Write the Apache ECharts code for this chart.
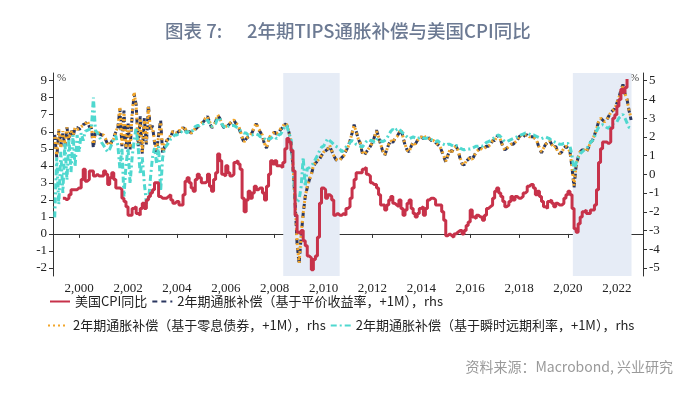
<!DOCTYPE html>
<html>
<head>
<meta charset="utf-8">
<script src="https://cdn.jsdelivr.net/npm/echarts@6/dist/echarts.min.js"></script>
<style>
  html, body { margin: 0; padding: 0; background: #fff; }
  #chart { width: 700px; height: 397px; }
</style>
</head>
<body>
<div id="chart"></div>
<script>
// axis ticks / labels
const xTicks = [2000, 2002, 2004, 2006, 2008, 2010, 2012, 2014, 2016, 2018, 2020, 2022];
const leftTicks = [-2, -1, 0, 1, 2, 3, 4, 5, 6, 7, 8, 9];
const rightTicks = [-5, -4, -3, -2, -1, 0, 1, 2, 3, 4, 5];
const shadeRanges = [[2008.35, 2010.66], [2020.2, 2022.6]];

// first month of each series [year, month]
const cpiStart = [1999, 5];
const rhsStart = [1999, 1];

// US CPI YoY, % (lhs), monthly from May 1999
const cpiYoY = [
  2.1, 2.0, 2.1, 2.3, 2.6, 2.6, 2.6, 2.7,
  2.7, 3.2, 3.8, 3.1, 3.2, 3.7, 3.7, 3.4, 3.5, 3.4, 3.4, 3.4,
  3.7, 3.5, 2.9, 3.3, 3.6, 3.2, 2.7, 2.7, 2.6, 2.1, 1.9, 1.6,
  1.1, 1.1, 1.5, 1.6, 1.2, 1.1, 1.5, 1.8, 1.5, 2.0, 2.2, 2.4,
  2.6, 3.0, 3.0, 2.2, 2.1, 2.1, 2.1, 2.2, 2.3, 2.0, 1.8, 1.9,
  1.9, 1.7, 1.7, 2.3, 3.1, 3.3, 3.0, 2.7, 2.5, 3.2, 3.5, 3.3,
  3.0, 3.0, 3.1, 3.5, 2.8, 2.5, 3.2, 3.6, 4.7, 4.3, 3.5, 3.4,
  4.0, 3.6, 3.4, 3.5, 4.2, 4.3, 4.1, 3.8, 2.1, 1.3, 2.0, 2.5,
  2.1, 2.4, 2.8, 2.6, 2.7, 2.7, 2.4, 2.0, 2.8, 3.5, 4.3, 4.1,
  4.3, 4.0, 4.0, 3.9, 4.2, 5.0, 5.6, 5.4, 4.9, 3.7, 1.1, 0.1,
  0.0, 0.2, -0.4, -0.7, -1.3, -1.4, -2.1, -1.5, -1.3, -0.2, 1.8, 2.7,
  2.6, 2.1, 2.3, 2.2, 2.0, 1.1, 1.2, 1.1, 1.1, 1.2, 1.1, 1.5,
  1.6, 2.1, 2.7, 3.2, 3.6, 3.6, 3.6, 3.8, 3.9, 3.5, 3.4, 3.0,
  2.9, 2.9, 2.7, 2.3, 1.7, 1.7, 1.4, 1.7, 2.0, 2.2, 1.8, 1.7,
  1.6, 2.0, 1.5, 1.1, 1.4, 1.8, 2.0, 1.5, 1.2, 1.0, 1.2, 1.5,
  1.6, 1.1, 1.5, 2.0, 2.1, 2.1, 2.0, 1.7, 1.7, 1.7, 1.3, 0.8,
  -0.1, 0.0, -0.1, -0.2, 0.0, 0.1, 0.2, 0.2, 0.0, 0.2, 0.5, 0.7,
  1.4, 1.0, 0.9, 1.1, 1.0, 1.0, 0.8, 1.1, 1.5, 1.6, 1.7, 2.1,
  2.5, 2.7, 2.4, 2.2, 1.9, 1.6, 1.7, 1.9, 2.2, 2.0, 2.2, 2.1,
  2.1, 2.2, 2.4, 2.5, 2.8, 2.9, 2.9, 2.7, 2.3, 2.5, 2.2, 1.9,
  1.6, 1.5, 1.9, 2.0, 1.8, 1.6, 1.8, 1.7, 1.7, 1.8, 2.1, 2.3,
  2.5, 2.3, 1.5, 0.3, 0.1, 0.6, 1.0, 1.3, 1.4, 1.2, 1.2, 1.4,
  1.4, 1.7, 2.6, 4.2, 5.0, 5.4, 5.4, 5.3, 5.4, 6.2, 6.8, 7.0,
  7.5, 7.9, 8.5, 8.3, 8.6, 9.1
];

// 2y breakeven, par yield basis, +1M (rhs), monthly from Jan 1999
const parBE = [
  2.1, 0.9, 2.3, 1.5, 2.2, 1.5, 2.5, 1.8, 2.4, 2.0, 2.5, 2.5,
  2.4, 2.5, 2.65, 2.7, 2.8, 2.55, 2.45, 1.4, 2.3, 2.25, 2.15, 2.1,
  2.05, 1.85, 1.6, 1.55, 1.75, 1.95, 2.25, 2.45, 3.5, 1.5, 3.4, 1.3,
  2.8, 1.3, 3.1, 4.3, 3.7, 1.5, 3.1, 1.1, 3.0, 1.6, 3.7, 2.3,
  2.6, 1.7, 1.2, 2.1, 2.9, 1.1, 1.5, 1.8, 1.9, 2.0, 2.3, 2.2,
  2.2, 2.3, 2.3, 2.5, 2.4, 2.2, 2.3, 2.2, 2.3, 2.4, 2.5, 2.6,
  2.7, 2.8, 2.95, 3.1, 2.8, 2.5, 2.55, 2.8, 3.15, 3.0, 2.7, 2.5,
  2.5, 2.6, 2.7, 2.8, 2.9, 2.7, 2.6, 2.3, 1.95, 1.7, 1.9, 2.0,
  2.05, 2.25, 2.5, 2.7, 2.4, 2.25, 2.05, 1.6, 1.4, 1.8, 2.05, 2.15,
  2.25, 2.15, 2.25, 2.4, 2.5, 2.7, 2.6, 2.25, 1.7, 0.4, -1.4, -3.7,
  -4.8, -3.3, -2.1, -1.2, -0.7, -0.3, 0.0, 0.4, 0.6, 0.7, 0.8, 1.0,
  1.15, 1.25, 1.35, 1.5, 1.25, 1.0, 0.8, 0.7, 0.75, 0.9, 1.0, 1.25,
  1.45, 1.8, 2.2, 2.65, 2.3, 1.9, 1.65, 1.15, 1.0, 1.2, 1.3, 1.5,
  1.7, 2.0, 2.35, 2.0, 1.6, 1.25, 1.0, 1.3, 1.6, 1.8, 1.7, 1.9,
  2.0, 2.2, 2.4, 2.0, 1.55, 1.3, 1.2, 1.5, 1.7, 1.6, 1.8, 1.9,
  2.0, 1.9, 2.0, 2.0, 1.9, 1.8, 1.8, 1.7, 1.6, 1.5, 1.25, 0.95,
  0.65, 1.0, 1.3, 1.2, 1.4, 1.5, 1.3, 0.85, 0.55, 0.5, 0.7, 0.8,
  0.9, 0.8, 1.0, 1.2, 1.3, 1.4, 1.3, 1.4, 1.5, 1.5, 1.6, 1.8,
  1.8, 2.0, 2.1, 1.8, 1.5, 1.3, 1.4, 1.5, 1.6, 1.6, 1.7, 1.8,
  2.0, 2.1, 2.0, 2.1, 2.1, 2.0, 2.0, 2.0, 1.9, 1.7, 1.35, 1.15,
  1.4, 1.6, 1.7, 1.8, 1.6, 1.4, 1.5, 1.2, 1.1, 1.2, 1.4, 1.5,
  1.4, 1.2, 0.35, -0.7, 0.45, 0.9, 1.2, 1.3, 1.3, 1.2, 1.4, 1.7,
  1.8, 2.1, 2.4, 2.8, 3.0, 2.9, 2.8, 2.9, 3.1, 3.3, 3.4, 3.5,
  3.8, 4.1, 4.5, 4.8, 4.3, 4.0, 3.4, 2.9
];

// 2y breakeven, zero-coupon basis, +1M (rhs)
const zeroBE = [
  2.0, 1.0, 2.4, 1.4, 2.3, 1.6, 2.5, 1.9, 2.3, 2.1, 2.5, 2.4,
  2.45, 2.55, 2.6, 2.7, 2.85, 2.6, 2.5, 1.6, 2.3, 2.2, 2.2, 2.1,
  2.1, 1.9, 1.65, 1.55, 1.7, 1.9, 2.3, 2.5, 3.6, 1.6, 3.3, 1.4,
  2.7, 1.4, 3.2, 4.4, 3.6, 1.6, 3.0, 1.2, 2.9, 1.7, 3.6, 2.4,
  2.5, 1.8, 1.3, 2.0, 2.8, 1.2, 1.6, 1.8, 1.9, 2.1, 2.3, 2.2,
  2.2, 2.35, 2.3, 2.55, 2.45, 2.25, 2.35, 2.2, 2.3, 2.45, 2.55, 2.6,
  2.73, 2.82, 3.0, 3.09, 2.82, 2.55, 2.55, 2.82, 3.18, 3.0, 2.73, 2.55,
  2.55, 2.64, 2.73, 2.82, 2.91, 2.73, 2.64, 2.36, 2.0, 1.73, 1.91, 2.0,
  2.09, 2.27, 2.55, 2.73, 2.45, 2.27, 2.09, 1.64, 1.45, 1.82, 2.09, 2.18,
  2.27, 2.18, 2.27, 2.45, 2.55, 2.73, 2.64, 2.27, 1.73, 0.45, -1.36, -3.64,
  -4.73, -3.18, -2.09, -1.18, -0.64, -0.27, 0.0, 0.45, 0.64, 0.73, 0.82, 1.0,
  1.18, 1.27, 1.36, 1.55, 1.27, 1.0, 0.82, 0.73, 0.77, 0.91, 1.0, 1.27,
  1.45, 1.8, 2.2, 2.6, 2.3, 1.9, 1.7, 1.2, 1.05, 1.2, 1.35, 1.5,
  1.7, 2.0, 2.3, 2.0, 1.6, 1.3, 1.05, 1.3, 1.6, 1.8, 1.7, 1.9,
  2.0, 2.2, 2.4, 2.0, 1.6, 1.3, 1.2, 1.5, 1.7, 1.6, 1.8, 1.9,
  2.0, 1.9, 2.0, 2.0, 1.9, 1.8, 1.8, 1.7, 1.6, 1.5, 1.3, 1.0,
  0.7, 1.0, 1.3, 1.2, 1.4, 1.5, 1.3, 0.9, 0.6, 0.5, 0.7, 0.8,
  0.9, 0.8, 1.0, 1.2, 1.3, 1.4, 1.3, 1.4, 1.5, 1.5, 1.6, 1.8,
  1.8, 2.0, 2.1, 1.8, 1.5, 1.3, 1.4, 1.5, 1.6, 1.6, 1.7, 1.8,
  2.0, 2.1, 2.0, 2.1, 2.1, 2.0, 2.0, 2.0, 1.9, 1.7, 1.4, 1.2,
  1.4, 1.6, 1.7, 1.8, 1.6, 1.4, 1.5, 1.2, 1.1, 1.2, 1.4, 1.5,
  1.4, 1.2, 0.4, -0.6, 0.5, 0.9, 1.2, 1.3, 1.3, 1.2, 1.4, 1.7,
  1.8, 2.1, 2.4, 2.8, 3.0, 2.9, 2.8, 2.9, 3.1, 3.3, 3.4, 3.5,
  3.8, 4.1, 4.4, 4.7, 4.3, 4.0, 3.4, 3.0
];

// 2y breakeven, instantaneous forward basis, +1M (rhs)
const fwdBE = [
  -2.3, 0.9, -1.6, 1.2, -1.0, 1.7, -0.3, 1.9, 0.1, 2.1, 0.4, 2.1,
  1.2, 2.2, 1.8, 2.3, 2.35, 2.4, 2.45, 4.1, 2.35, 2.2, 2.0, 1.7,
  1.55, 1.35, 1.2, 1.35, 1.6, 1.9, 2.05, 1.55, 0.3, 1.4, -1.2, 0.5,
  1.4, -0.5, 0.9, 1.8, 2.5, 1.4, 0.0, 0.9, -0.5, -1.5, -1.5, -0.2,
  0.9, 1.4, 0.6, 1.5, -0.9, 0.9, 1.4, 1.55, 1.7, 1.9, 2.0, 2.1,
  2.1, 2.2, 2.25, 2.35, 2.3, 2.2, 2.35, 2.3, 2.35, 2.55, 2.6, 2.6,
  2.7, 2.7, 2.8, 2.9, 2.7, 2.55, 2.65, 2.7, 3.0, 3.0, 2.7, 2.55,
  2.45, 2.55, 2.6, 2.6, 2.6, 2.55, 2.45, 2.35, 2.25, 2.2, 2.2, 2.1,
  2.1, 2.1, 2.15, 2.15, 2.1, 2.0, 2.0, 1.9, 1.8, 1.9, 1.9, 2.0,
  2.0, 1.9, 2.1, 2.15, 2.35, 2.55, 2.6, 2.2, 1.9, 0.3, -1.2, -1.5,
  -1.35, -0.65, 0.9, -0.65, 0.3, 0.35, 0.45, 0.6, 0.8, 1.0, 1.25, 1.45,
  1.5, 1.7, 1.9, 1.8, 1.7, 1.6, 1.5, 1.45, 1.35, 1.2, 1.3, 1.45,
  1.55, 1.7, 1.8, 1.75, 1.6, 1.55, 1.5, 1.45, 1.6, 1.75, 1.85, 1.8,
  1.8, 1.7, 1.85, 1.9, 1.8, 1.75, 1.8, 1.9, 2.1, 2.3, 2.4, 2.3,
  2.4, 2.45, 2.3, 2.2, 2.1, 2.0, 1.9, 1.95, 2.0, 1.95, 1.9, 1.95,
  2.0, 1.95, 1.9, 1.95, 1.9, 1.85, 1.8, 1.75, 1.8, 1.7, 1.65, 1.6,
  1.55, 1.6, 1.6, 1.55, 1.5, 1.55, 1.5, 1.4, 1.35, 1.3, 1.35, 1.35,
  1.35, 1.4, 1.45, 1.5, 1.5, 1.55, 1.5, 1.6, 1.7, 1.75, 1.8, 1.9,
  1.95, 2.05, 2.1, 2.0, 1.85, 1.75, 1.75, 1.8, 1.85, 1.9, 1.95, 2.0,
  2.05, 2.1, 2.15, 2.2, 2.2, 2.15, 2.1, 2.1, 2.05, 2.0, 1.95, 1.9,
  1.95, 2.0, 1.95, 1.9, 1.8, 1.75, 1.7, 1.65, 1.6, 1.6, 1.65, 1.65,
  1.65, 1.5, 1.0, 0.2, 0.6, 0.9, 1.1, 1.2, 1.3, 1.35, 1.5, 1.7,
  1.8, 2.0, 2.3, 2.5, 2.6, 2.65, 2.6, 2.5, 2.45, 2.6, 2.7, 2.75,
  2.8, 3.0, 3.1, 3.2, 3.0, 2.75, 2.5, 2.45
];

const names = [
  '美国CPI同比',
  '2年期通胀补偿（基于平价收益率，+1M），rhs',
  '2年期通胀补偿（基于零息债券，+1M），rhs',
  '2年期通胀补偿（基于瞬时远期利率，+1M），rhs'
];

function toSeries(start, values) {
  return values.map((v, i) => [start[0] + (start[1] - 1 + i) / 12, v]);
}

const serif = '"Liberation Serif", "Times New Roman", serif';
const axisFont = { fontFamily: serif, fontSize: 13, color: '#222' };
const legendFont = { fontFamily: 'Noto Sans CJK SC', fontSize: 13, color: '#222' };
const titleFont = '500 18.5px "Noto Sans CJK SC"';

const chart = echarts.init(document.getElementById('chart'));
const option = {
  animation: false,
  backgroundColor: '#fff',
  grid: { left: 53, right: 57, top: 73, bottom: 121 },
  legend: [
    {
      data: [names[0], names[1]],
      left: 44, top: 290,
      itemWidth: 20, itemHeight: 12, itemGap: 4,
      itemStyle: { opacity: 0 },
      textStyle: legendFont
    },
    {
      data: [names[2], names[3]],
      left: 42, top: 314,
      itemWidth: 20, itemHeight: 12, itemGap: 4,
      itemStyle: { opacity: 0 },
      textStyle: legendFont
    }
  ],
  xAxis: {
    type: 'value',
    min: 1998.93, max: 2023.07,
    splitLine: { show: false },
    axisLine: { lineStyle: { color: '#333', width: 1 } },
    axisTick: { length: 4, customValues: xTicks, lineStyle: { color: '#333' } },
    axisLabel: Object.assign({ customValues: xTicks, margin: 6 }, axisFont)
  },
  yAxis: [
    {
      type: 'value',
      min: -2.47, max: 9.45,
      splitLine: { show: false },
      axisLine: { show: true, lineStyle: { color: '#333', width: 1 } },
      axisTick: { show: true, length: 4, customValues: leftTicks, lineStyle: { color: '#333' } },
      axisLabel: Object.assign({ customValues: leftTicks, margin: 6 }, axisFont)
    },
    {
      type: 'value',
      min: -5.43, max: 5.41,
      splitLine: { show: false },
      axisLine: { show: true, lineStyle: { color: '#333', width: 1 } },
      axisTick: { show: true, length: 4, customValues: rightTicks, lineStyle: { color: '#333' } },
      axisLabel: Object.assign({ customValues: rightTicks, margin: 6 }, axisFont)
    }
  ],
  graphic: [
    { type: 'text', left: 165, top: 22, style: { text: '图表 7:', font: titleFont, fill: '#6c7a93' } },
    { type: 'text', left: 247, top: 22, style: { text: '2年期TIPS通胀补偿与美国CPI同比', font: titleFont, fill: '#6c7a93' } },
    { type: 'text', left: 57, top: 73, style: { text: '%', font: '11px ' + serif, fill: '#444' } },
    { type: 'text', left: 630, top: 73, style: { text: '%', font: '11px ' + serif, fill: '#444' } },
    { type: 'text', right: 27, top: 360, style: { text: '资料来源：Macrobond, 兴业研究', font: '14px "Noto Sans CJK SC"', fill: '#9a9a9a' } }
  ],
  series: [
    {
      name: names[0],
      type: 'line',
      yAxisIndex: 0,
      step: 'end',
      symbol: 'none',
      z: 5,
      data: toSeries(cpiStart, cpiYoY),
      lineStyle: { color: '#c7324a', width: 3 },
      itemStyle: { color: '#c7324a' },
      markArea: {
        silent: true,
        itemStyle: { color: '#e6ecf6' },
        data: shadeRanges.map(r => [{ xAxis: r[0] }, { xAxis: r[1] }])
      }
    },
    {
      name: names[1],
      type: 'line',
      yAxisIndex: 1,
      symbol: 'none',
      z: 2,
      data: toSeries(rhsStart, parBE),
      lineStyle: { color: '#2b3760', width: 3, type: [5, 4] },
      itemStyle: { color: '#2b3760' }
    },
    {
      name: names[2],
      type: 'line',
      yAxisIndex: 1,
      symbol: 'none',
      z: 3,
      data: toSeries(rhsStart, zeroBE),
      lineStyle: { color: '#f2a62b', width: 3, type: [2, 3] },
      itemStyle: { color: '#f2a62b' }
    },
    {
      name: names[3],
      type: 'line',
      yAxisIndex: 1,
      symbol: 'none',
      z: 4,
      data: toSeries(rhsStart, fwdBE),
      lineStyle: { color: '#4fd8cf', width: 3, type: [6, 3, 2, 3] },
      itemStyle: { color: '#4fd8cf' }
    }
  ]
};
chart.setOption(option);
</script>
</body>
</html>
